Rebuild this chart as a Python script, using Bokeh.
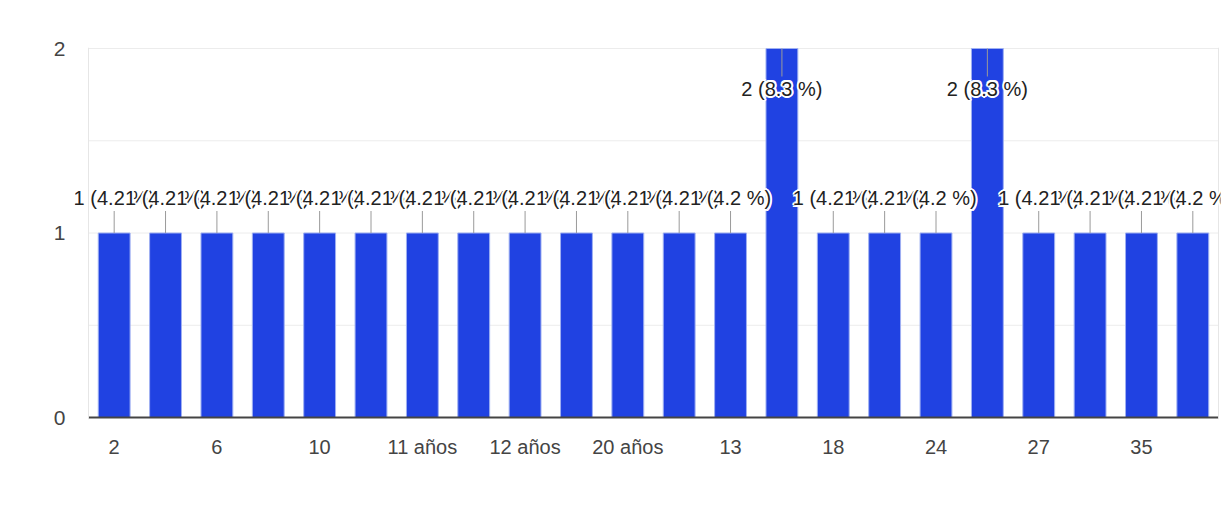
from bokeh.plotting import figure
from bokeh.models import ColumnDataSource, Range1d, FixedTicker, Label, Span
from bokeh.embed import file_html
from bokeh.resources import INLINE

# ---- data ----
counts = [1, 1, 1, 1, 1, 1, 1, 1, 1, 1, 1, 1, 1, 2, 1, 1, 1, 2, 1, 1, 1, 1]
tick_positions = [0, 2, 4, 6, 8, 10, 12, 14, 16, 18, 20]
tick_labels = ["2", "6", "10", "11 años", "12 años", "20 años", "13", "18", "24", "27", "35"]
y_ticks = [0, 1, 2]
grid_levels = [0.5, 1, 1.5, 2]

total = sum(counts)
ymax = 2
FONT = "Liberation Sans"
BAR = "#2042e2"

W, H = 1224, 506
n = len(counts)
plot_w = 1130            # width of the category area
ppu = 184.5              # pixels per count unit
spacing = plot_w / n
pad_l, pad_r = 14, 2     # extra frame room so the first label is not clipped
pad_t, pad_b = 1, 2
ML = 88 - pad_l
MR = W - (88 + plot_w + pad_r)
MT = 48 - pad_t
MB = H - (48 + int(ymax * ppu) + pad_b)

x_lo, x_hi = -0.5, n - 0.5
p = figure(width=W, height=H, output_backend="svg", toolbar_location=None,
           x_range=Range1d(x_lo - pad_l / spacing, x_hi + pad_r / spacing),
           y_range=Range1d(-pad_b / ppu, ymax + pad_t / ppu),
           min_border_left=ML, min_border_right=MR, min_border_top=MT, min_border_bottom=MB)
p.background_fill_color = "white"
p.border_fill_color = "white"
p.outline_line_color = None

# grid lines and chart-area border
p.xgrid.visible = False
p.ygrid.visible = False
p.segment(x0=[x_lo] * len(grid_levels), x1=[x_hi] * len(grid_levels),
          y0=grid_levels, y1=grid_levels, line_color="#ececec", line_width=1)
p.add_layout(Span(location=x_lo, dimension="height", line_color="#e6e6e6", line_width=1))
p.add_layout(Span(location=x_hi, dimension="height", line_color="#e6e6e6", line_width=1))

xs = list(range(n))
src = ColumnDataSource(dict(x=xs, top=counts))
p.vbar(x="x", top="top", width=0.62, source=src, fill_color=BAR,
       line_color="#9fb0f2", line_width=1)

# baseline
p.segment(x0=[x_lo], x1=[x_hi], y0=[0], y1=[0], line_color="#444444", line_width=2)

# stems from bar top to label
short_len = 22 / ppu
tall_len = 28 / ppu
y1s = [v + short_len if v < ymax else v - tall_len for v in counts]
p.segment(x0=xs, x1=xs, y0=counts, y1=y1s, line_color="#9a9a9a", line_width=1)

# axes
p.yaxis.ticker = FixedTicker(ticks=y_ticks)
p.yaxis.axis_line_color = None
p.yaxis.major_tick_line_color = None
p.yaxis.minor_tick_line_color = None
p.yaxis.major_label_text_font = FONT
p.yaxis.major_label_text_font_size = "21px"
p.yaxis.major_label_text_color = "#444444"
p.yaxis.major_label_standoff = 3

p.xaxis.ticker = FixedTicker(ticks=tick_positions)
p.xaxis.major_label_overrides = {t: l for t, l in zip(tick_positions, tick_labels)}
p.xaxis.axis_line_color = None
p.xaxis.major_tick_line_color = None
p.xaxis.minor_tick_line_color = None
p.xaxis.major_label_text_font = FONT
p.xaxis.major_label_text_font_size = "20px"
p.xaxis.major_label_text_color = "#444444"
p.xaxis.major_label_standoff = 10

# annotations with white halo, drawn left to right
halo = [(2, 0), (-2, 0), (0, 2), (0, -2), (1.5, 1.5), (-1.5, 1.5), (1.5, -1.5), (-1.5, -1.5)]
for i, v in enumerate(counts):
    txt = f"{v} ({v / total * 100:.1f} %)"
    yoff = 35 if v < ymax else -40
    for hx, hy in halo:
        p.add_layout(Label(x=i, y=v, text=txt, x_offset=hx, y_offset=yoff + hy,
                           text_font=FONT, text_font_size="20px", text_color="white",
                           text_align="center", text_baseline="middle", level="overlay"))
    p.add_layout(Label(x=i, y=v, text=txt, y_offset=yoff,
                       text_font=FONT, text_font_size="20px", text_color="#222222",
                       text_align="center", text_baseline="middle", level="overlay"))

open("out.html", "w").write(file_html(p, INLINE))
